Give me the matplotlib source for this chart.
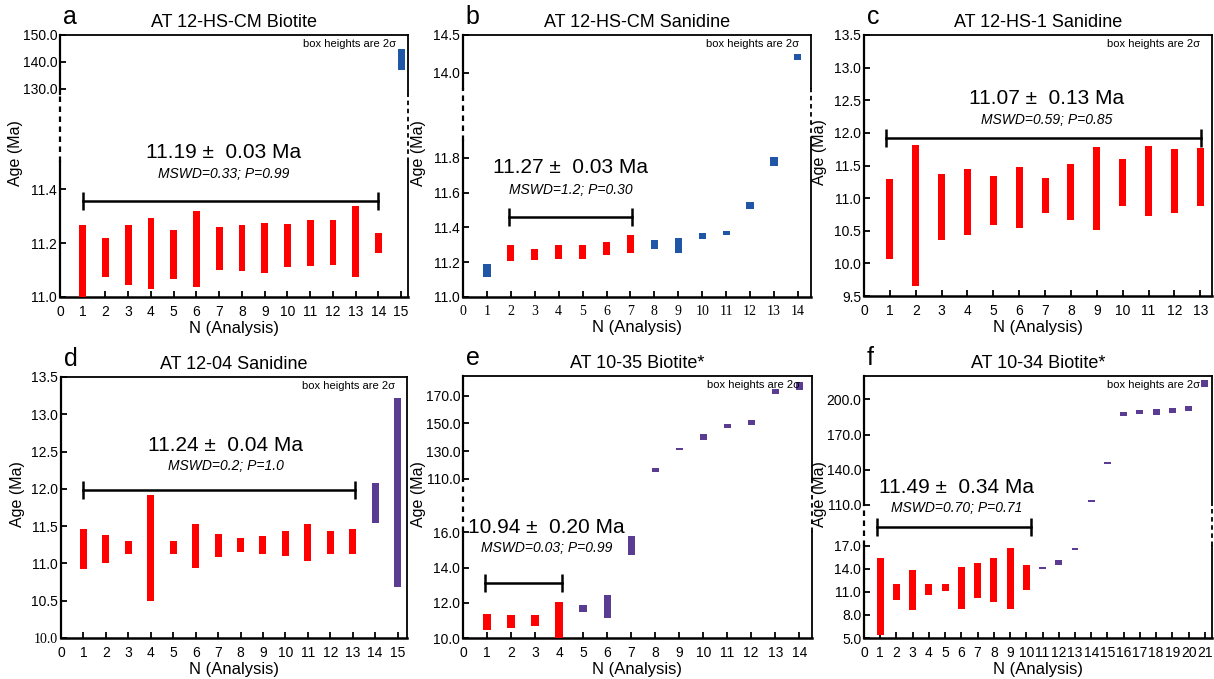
import numpy as np
import matplotlib
matplotlib.use("Agg")
import matplotlib.pyplot as plt

plt.rcParams['font.family'] = ['Liberation Sans', 'DejaVu Sans']

RED = '#ff0000'
BLUE = '#1f56a6'
PURPLE = '#5a3d92'
COLORS = {'r': RED, 'b': BLUE, 'p': PURPLE}

# ---- panel a : AT 12-HS-CM Biotite
a_title = "AT 12-HS-CM Biotite"
a_lo = [10.99, 11.074, 11.044, 11.03, 11.068, 11.038, 11.101, 11.096, 11.089, 11.11, 11.115, 11.12, 11.074, 11.164, 137.0]
a_hi = [11.265, 11.22, 11.265, 11.291, 11.25, 11.318, 11.258, 11.265, 11.273, 11.269, 11.284, 11.284, 11.336, 11.239, 144.8]
a_grp = ['r'] * 14 + ['b']
a_mean = "11.19 ±  0.03 Ma"
a_stats = "MSWD=0.33; P=0.99"
a_span = [1.0, 14.0]
a_yticks = [11.0, 11.2, 11.4, 130.0, 140.0, 150.0]

# ---- panel b : AT 12-HS-CM Sanidine
b_title = "AT 12-HS-CM Sanidine"
b_lo = [11.115, 11.208, 11.213, 11.219, 11.219, 11.242, 11.254, 11.277, 11.254, 11.335, 11.358, 11.508, 11.756, 14.17]
b_hi = [11.192, 11.298, 11.275, 11.298, 11.298, 11.315, 11.356, 11.327, 11.342, 11.371, 11.381, 11.546, 11.804, 14.25]
b_grp = ['b'] + ['r'] * 6 + ['b'] * 7
b_mean = "11.27 ±  0.03 Ma"
b_stats = "MSWD=1.2; P=0.30"
b_span = [1.91, 7.08]
b_yticks = [11.0, 11.2, 11.4, 11.6, 11.8, 14.0, 14.5]

# ---- panel c : AT 12-HS-1 Sanidine
c_title = "AT 12-HS-1 Sanidine"
c_lo = [10.072, 9.658, 10.363, 10.435, 10.588, 10.542, 10.777, 10.665, 10.512, 10.879, 10.726, 10.777, 10.879]
c_hi = [11.293, 11.814, 11.37, 11.446, 11.339, 11.477, 11.308, 11.523, 11.784, 11.6, 11.799, 11.753, 11.768]
c_grp = ['r'] * 13
c_mean = "11.07 ±  0.13 Ma"
c_stats = "MSWD=0.59; P=0.85"
c_span = [0.85, 13.03]
c_yticks = [9.5, 10.0, 10.5, 11.0, 11.5, 12.0, 12.5, 13.0, 13.5]

# ---- panel d : AT 12-04 Sanidine
d_title = "AT 12-04 Sanidine"
d_lo = [10.923, 11.004, 11.125, 10.493, 11.125, 10.937, 11.085, 11.152, 11.125, 11.098, 11.031, 11.125, 11.125, 11.542, 10.681]
d_hi = [11.461, 11.381, 11.30, 11.918, 11.30, 11.528, 11.394, 11.34, 11.367, 11.434, 11.528, 11.434, 11.461, 12.08, 13.223]
d_grp = ['r'] * 13 + ['p'] * 2
d_mean = "11.24 ±  0.04 Ma"
d_stats = "MSWD=0.2; P=1.0"
d_span = [1.0, 13.1]
d_yticks = [10.0, 10.5, 11.0, 11.5, 12.0, 12.5, 13.0, 13.5]

# ---- panel e : AT 10-35 Biotite*
e_title = "AT 10-35 Biotite*"
e_lo = [10.455, 10.57, 10.68, 9.95, 11.48, 11.14, 14.72, 115.3, 131.2, 138.4, 146.4, 148.6, 171.2, 173.9]
e_hi = [11.347, 11.29, 11.29, 12.05, 11.86, 12.43, 15.79, 117.95, 132.2, 142.5, 149.3, 152.4, 175.1, 180.1]
e_grp = ['r'] * 4 + ['p'] * 10
e_mean = "10.94 ±  0.20 Ma"
e_stats = "MSWD=0.03; P=0.99"
e_span = [0.9, 4.13]
e_yticks = [10.0, 12.0, 14.0, 16.0, 110.0, 130.0, 150.0, 170.0]

# ---- panel f : AT 10-34 Biotite*
f_title = "AT 10-34 Biotite*"
f_lo = [5.39, 9.9, 8.6, 10.55, 11.07, 8.73, 10.16, 9.64, 8.73, 11.2, 13.93, 14.45, 16.4,
        112.8, 145.3, 186.1, 187.8, 186.9, 188.6, 190.3, 210.9]
f_hi = [15.36, 11.98, 13.8, 11.98, 11.98, 14.19, 14.7, 15.36, 16.66, 14.45, 14.19, 15.1, 16.66,
        114.3, 146.8, 189.5, 191.2, 192.1, 192.3, 194.0, 216.3]
f_grp = ['r'] * 10 + ['p'] * 11
f_mean = "11.49 ±  0.34 Ma"
f_stats = "MSWD=0.70; P=0.71"
f_span = [0.82, 10.29]
f_yticks = [5.0, 8.0, 11.0, 14.0, 17.0, 110.0, 140.0, 170.0, 200.0]

W, H = 1214, 679
fig = plt.figure(figsize=(W / 100, H / 100), dpi=100)


def rect(l, r, t, b):
    return [l / W, 1 - b / H, (r - l) / W, (b - t) / H]


def panel(box, letter, title, lo, hi, grp, mean, stats, span, yticks,
          xmax, ylim, brk, w, bar_y, tx, ty, sy, serif_x=False):
    ax = fig.add_axes(box)
    if brk is not None:
        dv, fv = brk
        ax.set_yscale('function', functions=(lambda v: np.interp(v, dv, fv),
                                             lambda v: np.interp(v, fv, dv)))
    ax.set_xlim(0, xmax)
    ax.set_ylim(*ylim)

    x = np.arange(1, len(lo) + 1)
    lo = np.array(lo)
    hi = np.array(hi)
    ax.bar(x, hi - lo, bottom=lo, width=w, color=[COLORS[g] for g in grp], zorder=3)

    # weighted mean bar
    tr = ax.get_xaxis_transform()
    ax.plot(span, [bar_y, bar_y], color='black', lw=1.8, transform=tr, zorder=4)
    ax.plot(span, [bar_y, bar_y], ls='none', marker='|', ms=13, mew=1.8,
            color='black', transform=tr, zorder=4)
    ax.text(tx, ty, mean, transform=ax.transAxes, ha='center', va='center', fontsize=15)
    ax.text(tx, sy, stats, transform=ax.transAxes, ha='center', va='center',
            fontsize=10, style='italic')
    ax.text(0.965, 0.965, "box heights are 2σ", transform=ax.transAxes,
            ha='right', va='center', fontsize=8)

    ax.set_xticks(range(0, len(lo) + 1))
    ax.set_yticks(yticks)
    ax.set_yticklabels(["%.1f" % v for v in yticks])
    ax.minorticks_off()
    ax.tick_params(direction='in', length=4, width=1.3, labelsize=10)
    ax.tick_params(axis='y', pad=2)
    ax.tick_params(axis='x', pad=6)
    if serif_x:
        for lab in ax.get_xticklabels():
            lab.set_fontfamily('Liberation Serif')

    ax.set_xlabel("N (Analysis)", fontsize=12, labelpad=1)
    ax.set_ylabel("Age (Ma)", fontsize=11.5)
    ax.yaxis.set_label_coords(-0.105, 0.55)
    ax.set_title(title, fontsize=13, pad=6)
    ax.annotate(letter, xy=(0, 1), xycoords='axes fraction', xytext=(2, 8),
                textcoords='offset points', fontsize=18, va='baseline')

    ax.spines['bottom'].set_linewidth(1.8)
    ax.spines['top'].set_linewidth(1.3)
    ax.spines['left'].set_linewidth(1.6)
    ax.spines['right'].set_linewidth(1.3)
    if brk is not None:
        f1, f2 = brk[1][1], brk[1][2]
        for xs, lw in ((0, 1.6), (1, 1.3)):
            ax.spines['left' if xs == 0 else 'right'].set_visible(False)
            for seg, ls in (((0, f1), '-'), ((f1, f2), (0, (2.5, 2))), ((f2, 1), '-')):
                ax.plot([xs, xs], seg, color='black', lw=lw, ls=ls,
                        transform=ax.transAxes, clip_on=False, zorder=5)
    return ax


panel(rect(60, 408, 35, 297), 'a', a_title, a_lo, a_hi, a_grp, a_mean, a_stats, a_span, a_yticks,
      15.3, (11.0, 150.0), ([11.0, 11.5, 128.0, 150.0], [0, 0.515, 0.775, 1]), 0.3,
      0.366, 0.471, 0.553, 0.469)

axb = panel(rect(463, 811, 35, 297), 'b', b_title, b_lo, b_hi, b_grp, b_mean, b_stats, b_span, b_yticks,
            14.55, (11.0, 14.5), ([11.0, 11.9, 13.8, 14.5], [0, 0.597, 0.797, 1]), 0.3,
            0.305, 0.31, 0.496, 0.408, serif_x=True)

panel(rect(864, 1212, 35, 296), 'c', c_title, c_lo, c_hi, c_grp, c_mean, c_stats, c_span, c_yticks,
      13.45, (9.5, 13.5), None, 0.27,
      0.605, 0.524, 0.755, 0.674)

axd = panel(rect(61, 407, 377, 638), 'd', d_title, d_lo, d_hi, d_grp, d_mean, d_stats, d_span, d_yticks,
            15.42, (10.0, 13.5), None, 0.31,
            0.567, 0.476, 0.739, 0.659)
axd.get_yticklabels()[0].set_fontfamily('Liberation Serif')

panel(rect(463, 812, 376, 638), 'e', e_title, e_lo, e_hi, e_grp, e_mean, e_stats, e_span, e_yticks,
      14.53, (10.0, 184.2), ([10.0, 16.0, 110.0, 184.2], [0, 0.403, 0.607, 1]), 0.3,
      0.21, 0.24, 0.42, 0.344)

panel(rect(864, 1212, 376, 638), 'f', f_title, f_lo, f_hi, f_grp, f_mean, f_stats, f_span, f_yticks,
      21.44, (5.0, 220.0), ([5.0, 17.0, 110.0, 220.0], [0, 0.353, 0.508, 1]), 0.43,
      0.425, 0.265, 0.576, 0.496)

fig.savefig("out.png", dpi=100)
